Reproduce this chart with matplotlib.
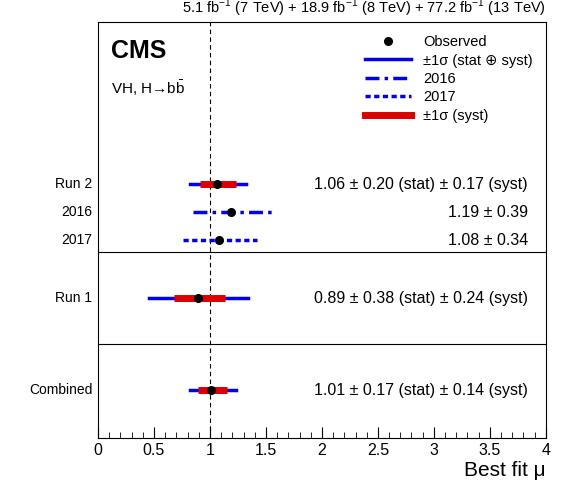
import matplotlib.pyplot as plt
from matplotlib.lines import Line2D
from matplotlib.ticker import MultipleLocator, FormatStrFormatter

# --- Data ---
labels = ["Run 2", "2016", "2017", "Run 1", "Combined"]
ypos = [254, 226, 198, 140, 48]
mu = [1.06, 1.19, 1.08, 0.89, 1.01]
tot_lo = [0.82, 0.85, 0.76, 0.46, 0.82]
tot_hi = [1.32, 1.58, 1.42, 1.34, 1.23]
syst_lo = [0.91, None, None, 0.68, 0.89]
syst_hi = [1.23, None, None, 1.13, 1.15]
texts = ["1.06 ± 0.20 (stat) ± 0.17 (syst)",
         "1.19 ± 0.39",
         "1.08 ± 0.34",
         "0.89 ± 0.38 (stat) ± 0.24 (syst)",
         "1.01 ± 0.17 (stat) ± 0.14 (syst)"]
styles = ["-", (0, (4, 1.5, 1, 1.5)), (0, (1.5, 1)), "-", "-"]

plt.rcParams['font.family'] = ['Liberation Sans', 'DejaVu Sans']
plt.rcParams['mathtext.fontset'] = 'custom'
plt.rcParams['mathtext.rm'] = 'Liberation Sans'

fig = plt.figure(figsize=(5.68, 4.84), dpi=100)
ax = fig.add_axes([0.1725, 0.095, 0.7885, 0.8595])

for i in range(len(labels)):
    ax.plot([tot_lo[i], tot_hi[i]], [ypos[i]] * 2, color="#0000ee", lw=2.5,
            linestyle=styles[i], zorder=2)
    if syst_lo[i] is not None:
        ax.plot([syst_lo[i], syst_hi[i]], [ypos[i]] * 2, color="#dd0000", lw=5,
                solid_capstyle="butt", zorder=3)
    ax.plot(mu[i], ypos[i], "o", color="black", ms=5.5, zorder=4)
    ax.text(3.84, ypos[i], texts[i], ha="right", va="center", fontsize=11.5)
    ax.text(-0.05, ypos[i], labels[i], ha="right", va="center", fontsize=10)

ax.axvline(1.0, color="black", lw=0.8, ls=(0, (4, 3)), zorder=1)
ax.axhline(186, color="black", lw=0.8)
ax.axhline(94, color="black", lw=0.8)

ax.set_xlim(0, 4)
ax.set_ylim(0, 416)
ax.set_yticks([])
ax.xaxis.set_major_locator(MultipleLocator(0.5))
ax.xaxis.set_minor_locator(MultipleLocator(0.1))
ax.xaxis.set_major_formatter(FormatStrFormatter("%g"))
ax.tick_params(axis="x", which="major", direction="in", length=8, top=False, labelsize=11.5)
ax.tick_params(axis="x", which="minor", direction="in", length=4)
ax.set_xlabel("Best fit μ", fontsize=15, loc="right", labelpad=2)

ax.text(0.03, 0.96, "CMS", transform=ax.transAxes, fontsize=18, fontweight="bold", va="top")
ax.text(0.03, 0.865, "VH, H→b$\\bar{\\rm b}$", transform=ax.transAxes, fontsize=11, va="top")
fig.text(0.961, 0.96,
         "5.1 fb$^{-1}$ (7 TeV) + 18.9 fb$^{-1}$ (8 TeV) + 77.2 fb$^{-1}$ (13 TeV)",
         ha="right", va="bottom", fontsize=10.5)

handles = [
    Line2D([], [], marker="o", color="black", ls="none", ms=5.5),
    Line2D([], [], color="#0000ee", lw=2.5),
    Line2D([], [], color="#0000ee", lw=2.5, ls=styles[1]),
    Line2D([], [], color="#0000ee", lw=2.5, ls=styles[2]),
    Line2D([], [], color="#dd0000", lw=5),
]
names = ["Observed", "±1σ (stat ⊕ syst)", "2016", "2017", "±1σ (syst)"]
ax.legend(handles, names, loc="upper right", bbox_to_anchor=(1.0, 1.0), frameon=False,
          fontsize=10.5, handlelength=3.2, labelspacing=0.3)

fig.savefig("out.png", dpi=100)
